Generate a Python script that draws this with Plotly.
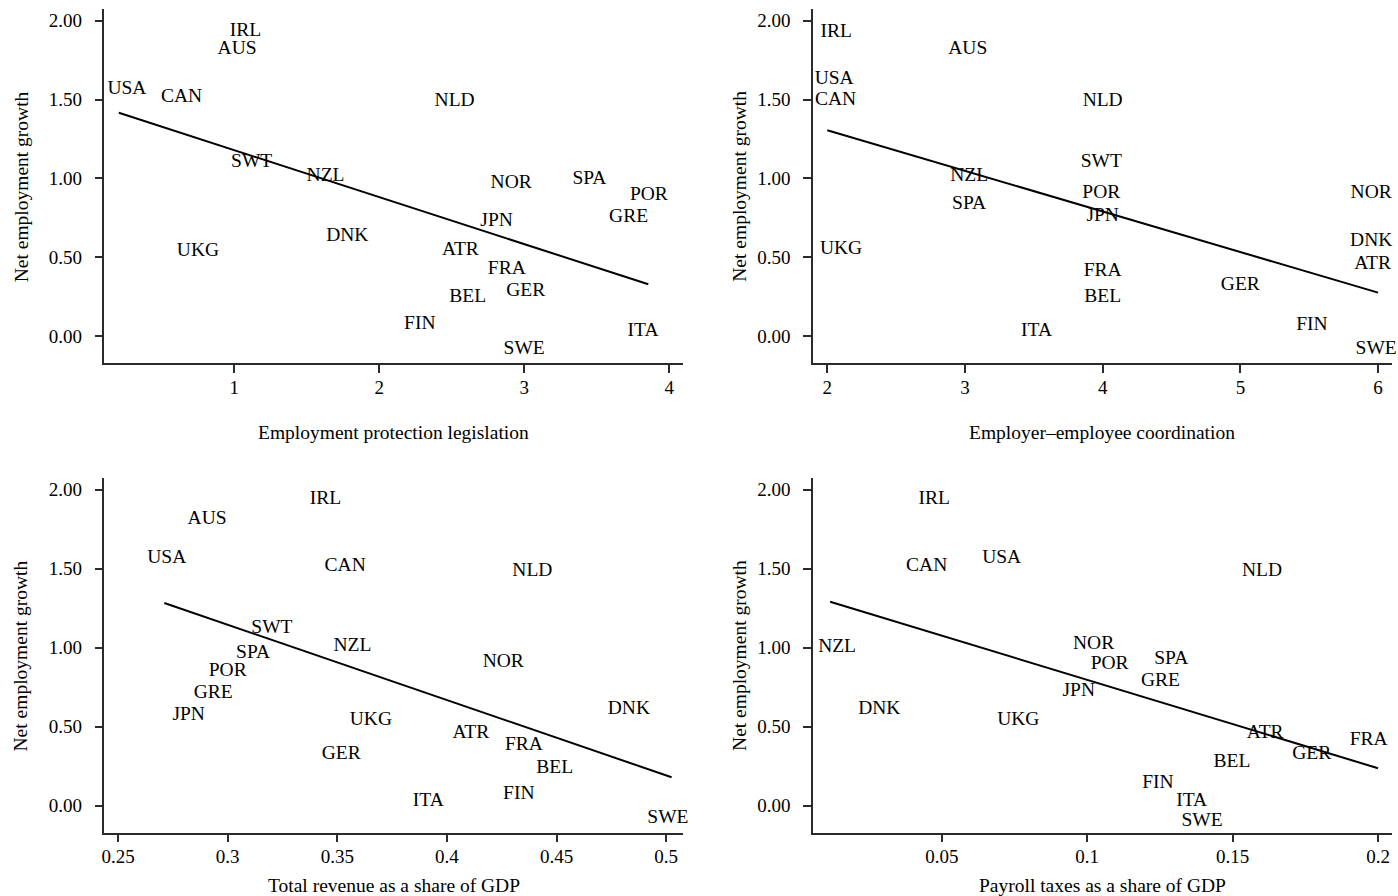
import plotly.graph_objects as go

# Country codes shared by all four panels
countries = ["USA", "CAN", "AUS", "IRL", "NLD", "SWT", "NZL", "NOR", "SPA", "POR", "GRE",
             "JPN", "DNK", "UKG", "ATR", "FRA", "GER", "BEL", "FIN", "ITA", "SWE"]

# Panel 1: employment protection legislation
epl_x = [0.26, 0.637, 1.02, 1.077, 2.52, 1.12, 1.63, 2.91, 3.45, 3.86, 3.72,
         2.81, 1.78, 0.75, 2.56, 2.88, 3.01, 2.61, 2.28, 3.82, 3.00]
epl_y = [1.565, 1.516, 1.82, 1.937, 1.49, 1.10, 1.016, 0.97, 0.996, 0.894, 0.757,
         0.731, 0.631, 0.539, 0.547, 0.427, 0.285, 0.245, 0.074, 0.032, -0.084]
epl_fit_x = [0.204, 3.856]
epl_fit_y = [1.416, 0.328]

# Panel 2: employer-employee coordination (no value for Greece)
coord_x = [2.05, 2.06, 3.02, 2.065, 4.0, 3.99, 3.03, 5.95, 3.03, 3.99, None,
           4.0, 5.95, 2.10, 5.96, 4.0, 5.0, 4.0, 5.52, 3.52, 5.986]
coord_y = [1.63, 1.497, 1.82, 1.93, 1.49, 1.10, 1.016, 0.908, 0.836, 0.908, None,
           0.76, 0.604, 0.549, 0.454, 0.412, 0.323, 0.249, 0.070, 0.032, -0.084]
coord_fit_x = [2.0, 6.0]
coord_fit_y = [1.305, 0.275]

# Panel 3: total revenue as a share of GDP
rev_x = [0.2722, 0.3536, 0.2906, 0.3446, 0.4390, 0.3202, 0.3569, 0.4257, 0.3116, 0.3000, 0.2934,
         0.2822, 0.4830, 0.3653, 0.4109, 0.4351, 0.3518, 0.4492, 0.4328, 0.3915, 0.5008]
rev_y = [1.566, 1.517, 1.813, 1.94, 1.486, 1.126, 1.012, 0.906, 0.967, 0.853, 0.711,
         0.576, 0.612, 0.544, 0.459, 0.381, 0.324, 0.235, 0.074, 0.028, -0.078]
rev_fit_x = [0.2711, 0.5025]
rev_fit_y = [1.283, 0.180]

# Panel 4: payroll taxes as a share of GDP (no values for Australia, Switzerland)
pay_x = [0.0706, 0.0448, None, 0.0474, 0.1601, None, 0.0140, 0.1022, 0.1289, 0.1077, 0.1252,
         0.0971, 0.0285, 0.0763, 0.1612, 0.1968, 0.1772, 0.1498, 0.1243, 0.1359, 0.1395]
pay_y = [1.564, 1.517, None, 1.94, 1.486, None, 1.001, 1.022, 0.927, 0.899, 0.787,
         0.726, 0.612, 0.544, 0.460, 0.415, 0.327, 0.274, 0.144, 0.030, -0.096]
pay_fit_x = [0.0116, 0.2]
pay_fit_y = [1.291, 0.237]

y_ticks = [0.0, 0.5, 1.0, 1.5, 2.0]
epl_ticks = [1, 2, 3, 4]
coord_ticks = [2, 3, 4, 5, 6]
rev_ticks = [0.25, 0.3, 0.35, 0.4, 0.45, 0.5]
pay_ticks = [0.05, 0.1, 0.15, 0.2]

x_titles = ["Employment protection legislation", "Employer\u2013employee coordination",
            "Total revenue as a share of GDP", "Payroll taxes as a share of GDP"]
y_title = "Net employment growth"

FONT = "Liberation Serif, Times New Roman, serif"
INK = "#000000"
AXIS = "#2b2b2b"
W, H = 1398, 896

panels = [
    dict(x=epl_x, y=epl_y, fx=epl_fit_x, fy=epl_fit_y, ticks=epl_ticks,
         xr=[0.105, 4.097], yr=[-0.1732, 2.0723], left=101.7, right=681.7, top=9.3, bottom=363.3),
    dict(x=coord_x, y=coord_y, fx=coord_fit_x, fy=coord_fit_y, ticks=coord_ticks,
         xr=[1.896, 6.099], yr=[-0.1732, 2.0723], left=811.7, right=1391.7, top=9.3, bottom=363.3),
    dict(x=rev_x, y=rev_y, fx=rev_fit_x, fy=rev_fit_y, ticks=rev_ticks,
         xr=[0.2438, 0.5078], yr=[-0.1709, 2.0722], left=101.7, right=681.7, top=478.3, bottom=832.7),
    dict(x=pay_x, y=pay_y, fx=pay_fit_x, fy=pay_fit_y, ticks=pay_ticks,
         xr=[0.0057, 0.2047], yr=[-0.1709, 2.0722], left=811.7, right=1391.7, top=478.3, bottom=832.7),
]

fig = go.Figure()
layout = {}
annotations = []

for i, p in enumerate(panels):
    n = i + 1
    xa = "x" if n == 1 else f"x{n}"
    ya = "y" if n == 1 else f"y{n}"
    pts = [(c, xv, yv) for c, xv, yv in zip(countries, p["x"], p["y"]) if xv is not None]

    fig.add_trace(go.Scatter(
        x=p["fx"], y=p["fy"], mode="lines", xaxis=xa, yaxis=ya,
        line=dict(color="#000000", width=2), hoverinfo="skip", showlegend=False))
    fig.add_trace(go.Scatter(
        x=[t[1] for t in pts], y=[t[2] for t in pts], text=[t[0] for t in pts],
        mode="text", textposition="middle center", xaxis=xa, yaxis=ya,
        textfont=dict(family=FONT, size=19.5, color=INK), showlegend=False, cliponaxis=False))

    axis_common = dict(showline=True, linecolor=AXIS, linewidth=1.5, mirror=False,
                       showgrid=False, zeroline=False, ticks="outside", ticklen=8,
                       tickwidth=1.5, tickcolor=AXIS,
                       tickfont=dict(family=FONT, size=19, color=INK))
    xkey = "xaxis" if n == 1 else f"xaxis{n}"
    ykey = "yaxis" if n == 1 else f"yaxis{n}"
    layout[xkey] = dict(domain=[p["left"] / W, p["right"] / W], range=p["xr"],
                        anchor=ya, tickmode="array", tickvals=p["ticks"],
                        ticktext=[f"{v:g}" for v in p["ticks"]], ticklabelstandoff=-2,
                        **axis_common)
    layout[ykey] = dict(domain=[1 - p["bottom"] / H, 1 - p["top"] / H], range=p["yr"],
                        anchor=xa, tickmode="array", tickvals=y_ticks,
                        ticktext=[f"{v:.2f}" for v in y_ticks], ticklabelstandoff=9,
                        **axis_common)

    title_y = 432 if n <= 2 else 885
    annotations.append(dict(text=x_titles[i], xref=f"{xa} domain", x=0.5, yref="paper",
                            y=1 - title_y / H, xanchor="center", yanchor="middle",
                            showarrow=False, font=dict(family=FONT, size=19.5, color=INK)))
    ytitle_x = 18 if n in (1, 3) else 738
    annotations.append(dict(text=y_title, xref="paper", x=ytitle_x / W, yref=f"{ya} domain",
                            y=0.5, xanchor="center", yanchor="middle", textangle=-90,
                            showarrow=False, font=dict(family=FONT, size=19.5, color=INK)))

fig.update_layout(width=W, height=H, margin=dict(l=0, r=0, t=0, b=0),
                  paper_bgcolor="white", plot_bgcolor="white",
                  annotations=annotations, **layout)

fig.write_html("out.html")
